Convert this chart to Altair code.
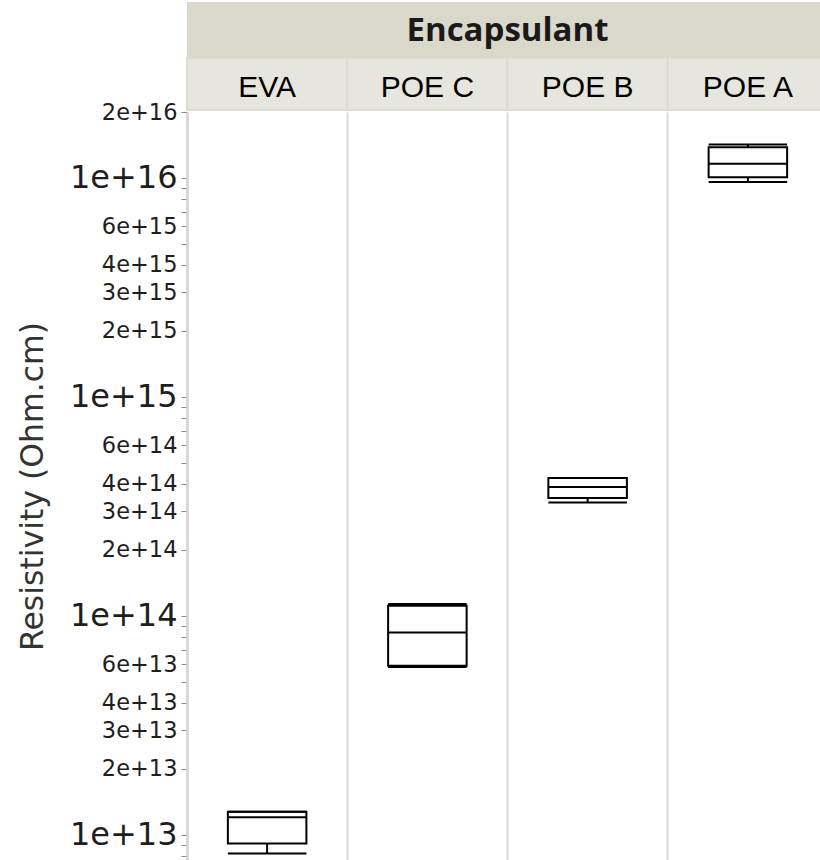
import altair as alt
import pandas as pd

# Box-plot summary of volume resistivity per encapsulant (Ohm.cm)
encapsulants = ["EVA", "POE C", "POE B", "POE A"]
res_min = [8.2e12, 5.82e13, 3.29e14, 9.57e15]
res_q1 = [9.1e12, 5.9e13, 3.45e14, 1.008e16]
res_median = [1.2e13, 8.38e13, 3.87e14, 1.16e16]
res_q3 = [1.27e13, 1.11e14, 4.26e14, 1.38e16]
res_max = [1.27e13, 1.13e14, 4.26e14, 1.42e16]

df = pd.DataFrame({
    "Encapsulant": encapsulants,
    "min": res_min,
    "q1": res_q1,
    "median": res_median,
    "q3": res_q3,
    "max": res_max,
})

W, H = 633, 748          # visible plot area
BAND_RANGE = 641         # four panels of equal width; the last one runs past the edge
Y_DOMAIN = [7.65e12, 2e16]

# every 1..9 x 10^k tick inside the domain; labels only on 1, 2, 3, 4, 6
tick_values = [m * 10 ** e for e in range(12, 17) for m in range(1, 10)
               if Y_DOMAIN[0] <= m * 10 ** e <= Y_DOMAIN[1]]
labelled = [v for v in tick_values if int(str(v)[0]) in (1, 2, 3, 4, 6)]
decades = [10 ** e for e in range(13, 17)]

labelled_js = "[" + ",".join(str(v) for v in labelled) + "]"
decades_js = "[" + ",".join(str(v) for v in decades) + "]"

y_axis = alt.Axis(
    values=tick_values,
    labelExpr=f"indexof({labelled_js}, datum.value) >= 0 ? format(datum.value, '.0e') : ''",
    labelFont="DejaVu Sans",
    labelFontSize={"condition": {"test": f"indexof({decades_js}, datum.value) >= 0", "value": 32},
                   "value": 22.5},
    labelColor="#1e1e1e",
    labelPadding=4,
    labelOverlap=False,
    labelFlush=False,
    tickSize=6,
    tickColor="#8c8c8c",
    tickWidth=1,
    domainColor="#a8a8a8",
    domainWidth=2,
    grid=False,
    title="Resistivity (Ohm.cm)",
    titleFont="DejaVu Sans",
    titleFontSize=31.5,
    titleFontWeight="normal",
    titleColor="#333333",
    titlePadding=20,
)

y_scale = alt.Scale(type="log", domain=Y_DOMAIN, nice=False)

x_axis = alt.Axis(
    title=None, labels=False, ticks=False, domain=False,
    grid=True, bandPosition=0, gridColor="#dadada", gridWidth=2,
)
x_scale = alt.Scale(domain=encapsulants, range=[0, BAND_RANGE], paddingInner=0, paddingOuter=0)


def x_enc():
    return alt.X("Encapsulant:N", sort=encapsulants, scale=x_scale, axis=x_axis)


def y_enc(field):
    return alt.Y(f"{field}:Q", scale=y_scale, axis=y_axis)


base = alt.Chart(df)

box_w = alt.RelativeBandSize(0.49)
line_style = dict(stroke="black", strokeWidth=2)

whisker_low = base.mark_rule(**line_style).encode(x=x_enc(), y=y_enc("min"), y2="q1:Q")
whisker_high = base.mark_rule(**line_style).encode(x=x_enc(), y=y_enc("q3"), y2="max:Q")
box = base.mark_bar(width=box_w, fill="white", **line_style).encode(
    x=x_enc(), y=y_enc("q1"), y2="q3:Q")
median = base.mark_bar(width=box_w, fill="white", **line_style).encode(
    x=x_enc(), y=y_enc("median"), y2="median:Q")
cap_low = base.mark_bar(width=box_w, fill="white", **line_style).encode(
    x=x_enc(), y=y_enc("min"), y2="min:Q")
cap_high = base.mark_bar(width=box_w, fill="white", **line_style).encode(
    x=x_enc(), y=y_enc("max"), y2="max:Q")

# header bands above the plot: group title row and one cell per encapsulant
group_band = base.mark_rect(fill="#dad8ca").encode(
    x=alt.value(0), x2=alt.value(BAND_RANGE), y=alt.value(-110), y2=alt.value(-55))
cells = base.mark_rect(fill="#e6e6de", stroke="#dcdbd0", strokeWidth=2).encode(
    x=x_enc(), y=alt.value(-54), y2=alt.value(-2))
cell_labels = base.mark_text(
    font="Liberation Sans", fontSize=30, color="#000000", baseline="alphabetic"
).encode(x=x_enc(), y=alt.value(-15), text="Encapsulant:N")
group_title = alt.Chart(pd.DataFrame({"label": ["Encapsulant"]})).mark_text(
    font="Open Sans", fontSize=33, fontWeight="bold", color="#1a1a1a", baseline="alphabetic"
).encode(x=alt.value(BAND_RANGE / 2), y=alt.value(-71), text="label:N")

chart = alt.layer(
    group_band, cells, cell_labels, group_title,
    whisker_low, whisker_high, box, median, cap_low, cap_high,
).properties(
    width=W,
    height=H,
    autosize=alt.AutoSizeParams(type="none"),
    padding={"left": 187, "top": 112, "right": 0, "bottom": 0},
    background="white",
).configure_view(stroke=None)

chart.save("out.html", embed_options={"renderer": "svg", "actions": False})
